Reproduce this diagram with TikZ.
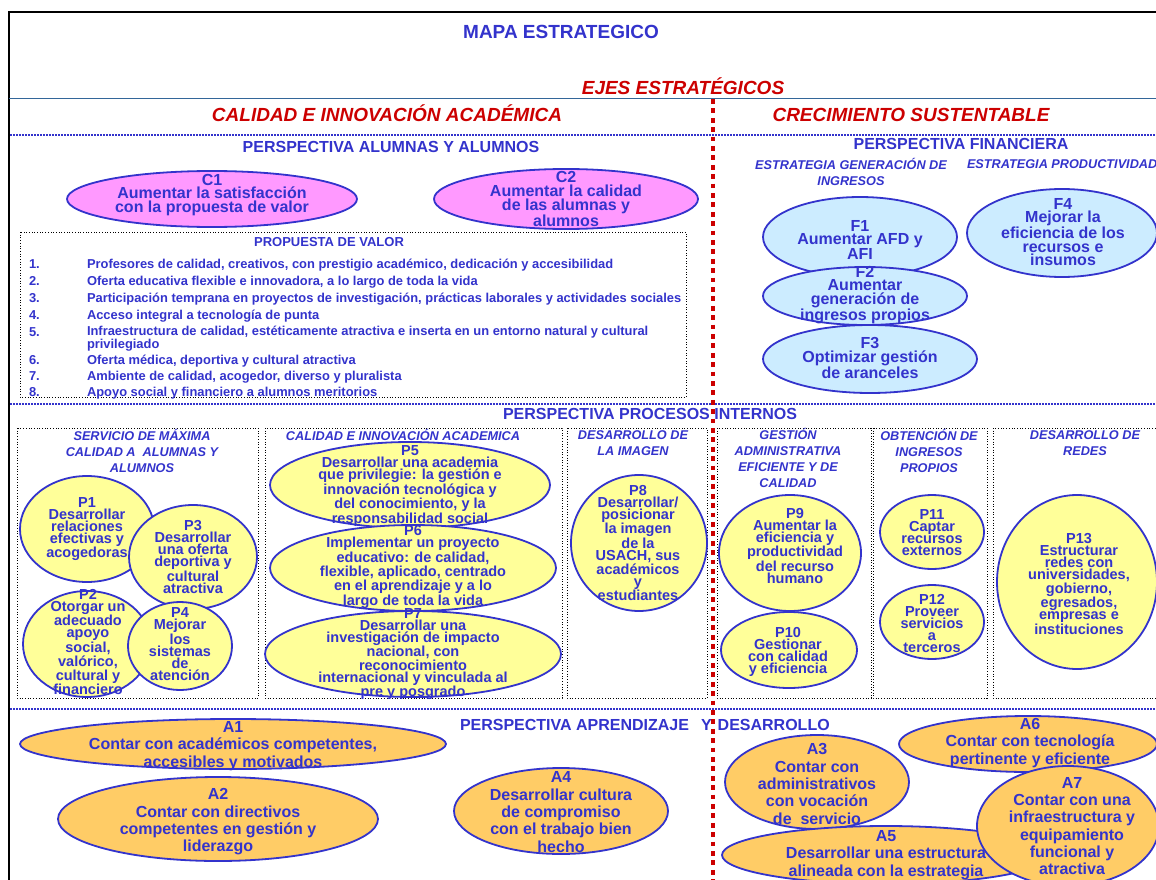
\documentclass[tikz,border=0pt]{standalone}
\usepackage{fontspec}
\setmainfont{Liberation Sans}
\usetikzlibrary{shapes.geometric}
\definecolor{bl}{HTML}{3333CC}
\definecolor{rd}{HTML}{CC0000}
\definecolor{steel}{HTML}{336699}
\definecolor{pinkf}{HTML}{FF99FF}
\definecolor{finf}{HTML}{CCECFF}
\definecolor{yelf}{HTML}{FFFF99}
\definecolor{orf}{HTML}{FFCC66}
\newcommand{\fsz}[2]{\fontsize{#1}{#2}\selectfont}
\tikzset{
  ttl/.style={font=\fsz{19}{22}\bfseries, text=bl, anchor=base},
  axisttl/.style={font=\fsz{19}{22}\bfseries\itshape, text=rd, anchor=base},
  persp/.style={font=\fsz{16}{18}\bfseries, text=bl, anchor=base},
  subh/.style={font=\fsz{12.7}{15.8}\bfseries\itshape, text=bl, align=center},
  itemtx/.style={font=\fsz{12.9}{10}\bfseries, text=bl, anchor=base west, align=left},
  oval/.style={ellipse, draw=bl, line width=1.8pt, inner sep=0pt, outer sep=0pt},
  custE/.style={oval, fill=pinkf},
  finE/.style={oval, fill=finf},
  procE/.style={oval, fill=yelf},
  aprE/.style={oval, fill=orf},
  ctx/.style={font=\fsz{16}{13.7}\bfseries, text=bl, align=center},
  ftx/.style={font=\fsz{16}{13.5}\bfseries, text=bl, align=center},
  ptx/.style={font=\fsz{14.5}{12}\bfseries, text=bl, align=center},
  atx/.style={font=\fsz{16}{17.3}\bfseries, text=bl, align=center},
  dotbox/.style={draw=black, line width=0.7pt, dotted},
  bluedots/.style={draw=bl, line width=2.4pt, dash pattern=on 1.6pt off 1.4pt},
  reddash/.style={draw=rd, line width=4.5pt, dash pattern=on 4.8pt off 4.6pt},
  every node/.append style={inner sep=0pt, outer sep=0pt}
}
\begin{document}
\begin{tikzpicture}[x=1pt,y=-1pt]
\useasboundingbox (0,0) rectangle (1156,880);
\clip (0,0) rectangle (1156,880);
\fill[white] (0,0) rectangle (1156,880);
% frame
\draw[black, line width=1.3pt] (9,882) -- (9,12) -- (1160,12);
\draw[steel, line width=1pt] (9,99) -- (1160,99);
\draw[bluedots] (10,135) -- (1160,135);
\draw[bluedots] (10,404) -- (1160,404);
\draw[bluedots] (10,709) -- (1160,709);
% titles
\node[ttl] (title) at (561,38.8) {MAPA ESTRATEGICO};
\node[axisttl] (ejes) at (683,94.8) {EJES ESTRATÉGICOS};
\node[axisttl] (ax1) at (387,121.8) {CALIDAD E INNOVACIÓN ACADÉMICA};
\node[axisttl] (ax2) at (911,121.8) {CRECIMIENTO SUSTENTABLE};
% perspectiva alumnos
\node[persp] (pal) at (391,152.7) {PERSPECTIVA ALUMNAS Y ALUMNOS};
\node[custE, minimum width=290pt, minimum height=56pt] (C1) at (212,199) {};
\node[ctx] (C1t) at (212,195) {C1\\Aumentar la satisfacción\\con la propuesta de valor};
\node[custE, minimum width=264pt, minimum height=60pt] (C2) at (566,199) {};
\node[ctx] (C2t) at (566,199) {C2\\Aumentar la calidad\\de las alumnas y\\alumnos};
% propuesta de valor
\draw[dotbox] (20,232) rectangle (686,397);
\node[font=\fsz{13}{15}\bfseries, text=bl, anchor=base] (pv) at (329,246.6) {PROPUESTA DE VALOR};
\node[itemtx] (n1) at (29,268.5) {1.};
\node[itemtx] (i1) at (87,268.5) {Profesores de calidad, creativos, con prestigio académico, dedicación y accesibilidad};
\node[itemtx] (n2) at (29,285.5) {2.};
\node[itemtx] (i2) at (87,285.5) {Oferta educativa flexible e innovadora, a lo largo de toda la vida};
\node[itemtx] (n3) at (29,302.5) {3.};
\node[itemtx] (i3) at (87,302.5) {Participación temprana en proyectos de investigación, prácticas laborales y actividades sociales};
\node[itemtx] (n4) at (29,319.5) {4.};
\node[itemtx] (i4) at (87,319.5) {Acceso integral a tecnología de punta};
\node[itemtx] (n5) at (29,336.5) {5.};
\node[itemtx, anchor=north west] (i5) at (87,326.5) {Infraestructura de calidad, estéticamente atractiva e inserta en un entorno natural y cultural\\privilegiado};
\node[itemtx] (n6) at (29,364.5) {6.};
\node[itemtx] (i6) at (87,364.5) {Oferta médica, deportiva y cultural atractiva};
\node[itemtx] (n7) at (29,380.5) {7.};
\node[itemtx] (i7) at (87,380.5) {Ambiente de calidad, acogedor, diverso y pluralista};
\node[itemtx] (n8) at (29,396.5) {8.};
\node[itemtx] (i8) at (87,396.5) {Apoyo social y financiero a alumnos meritorios};
% perspectiva financiera
\node[persp] (pfin) at (961,149.7) {PERSPECTIVA FINANCIERA};
\node[subh] (sfin1) at (851,172) {ESTRATEGIA GENERACIÓN DE\\INGRESOS};
\node[subh, anchor=base west] (sfin2) at (967,168.5) {ESTRATEGIA PRODUCTIVIDAD};
\node[finE, minimum width=194pt, minimum height=80pt] (F1) at (860,237) {};
\node[ftx] (F1t) at (860,240) {F1\\Aumentar AFD y\\AFI};
\node[finE, minimum width=204pt, minimum height=58pt] (F2) at (865,296) {};
\node[ftx] (F2t) at (865,295) {F2\\Aumentar\\generación de\\ingresos propios};
\node[finE, minimum width=214pt, minimum height=68pt] (F3) at (870,359) {};
\node[ftx] (F3t) at (870,358) {F3\\Optimizar gestión\\de aranceles};
\node[finE, minimum width=190pt, minimum height=88pt] (F4) at (1062,233) {};
\node[ftx] (F4t) at (1063,232) {F4\\Mejorar la\\eficiencia de los\\recursos e\\insumos};
% perspectiva procesos internos
\node[persp, anchor=base east] (ppi) at (797,419.7) {PERSPECTIVA PROCESOS INTERNOS};
\draw[dotbox] (17,428) rectangle (258,698);
\draw[dotbox] (265,428) rectangle (562,698);
\draw[dotbox] (567,428) rectangle (707,698);
\draw[dotbox] (717,428) rectangle (871,698);
\draw[dotbox] (873,428) rectangle (987,698);
\draw[dotbox] (993,428) rectangle (1170,698);
\node[subh] (s1) at (142,451) {SERVICIO DE MÁXIMA\\CALIDAD A~~ALUMNAS Y\\ALUMNOS};
\node[subh] (s2) at (403,435) {CALIDAD E INNOVACIÓN ACADEMICA};
\node[subh] (s3) at (633,443) {DESARROLLO DE\\LA IMAGEN};
\node[subh] (s4) at (788,458) {GESTIÓN\\ADMINISTRATIVA\\EFICIENTE Y DE\\CALIDAD};
\node[subh] (s5) at (929,451) {OBTENCIÓN DE\\INGRESOS\\PROPIOS};
\node[subh] (s6) at (1085,443) {DESARROLLO DE\\REDES};
\node[procE, minimum width=134pt, minimum height=106pt] (P1) at (87,529) {};
\node[ptx] (P1t) at (87,529) {P1\\Desarrollar\\relaciones\\efectivas y\\acogedoras};
\node[procE, minimum width=128pt, minimum height=104pt] (P3) at (193,557) {};
\node[ptx] (P3t) at (193,557) {P3\\Desarrollar\\una oferta\\deportiva y\\cultural\\atractiva};
\node[procE, minimum width=128pt, minimum height=106pt] (P2) at (87,644) {};
\node[ptx] (P2t) at (88,642) {P2\\Otorgar un\\adecuado\\apoyo\\social,\\valórico,\\cultural y\\financiero};
\node[procE, minimum width=104pt, minimum height=88pt] (P4) at (180,646) {};
\node[ptx] (P4t) at (180,644) {P4\\Mejorar\\los\\sistemas\\de\\atención};
\node[procE, minimum width=280pt, minimum height=86pt] (P5) at (410,485) {};
\node[ptx] (P5t) at (410,486) {P5\\Desarrollar una academia\\que privilegie: la gestión e\\innovación tecnológica y\\del conocimiento, y la\\responsabilidad social};
\node[procE, minimum width=286pt, minimum height=86pt] (P6) at (413,568) {};
\node[ptx] (P6t) at (413,567) {P6\\Implementar un proyecto\\educativo: de calidad,\\flexible, aplicado, centrado\\en el aprendizaje y a lo\\largo de toda la vida};
\node[procE, minimum width=296pt, minimum height=86pt] (P7) at (413,654) {};
\node[ptx] (P7t) at (413,654) {P7\\Desarrollar una\\investigación de impacto\\nacional, con\\reconocimiento\\internacional y vinculada al\\pre y posgrado};
\node[procE, minimum width=136pt, minimum height=136pt] (P8) at (639,543) {};
\node[ptx] (P8t) at (638,543) {P8\\Desarrollar/\\posicionar\\la imagen\\de la\\USACH, sus\\académicos\\y\\estudiantes};
\node[procE, minimum width=142pt, minimum height=116pt] (P9) at (790,553) {};
\node[ptx] (P9t) at (795,546) {P9\\Aumentar la\\eficiencia y\\productividad\\del recurso\\humano};
\node[procE, minimum width=136pt, minimum height=76pt] (P10) at (789,650) {};
\node[ptx] (P10t) at (788,652) {P10\\Gestionar\\con calidad\\y eficiencia};
\node[procE, minimum width=104pt, minimum height=74pt] (P11) at (932,532) {};
\node[ptx] (P11t) at (932,533) {P11\\Captar\\recursos\\externos};
\node[procE, minimum width=104pt, minimum height=74pt] (P12) at (932,622) {};
\node[ptx] (P12t) at (932,624) {P12\\Proveer\\servicios\\a\\terceros};
\node[procE, minimum width=160pt, minimum height=174pt] (P13) at (1077,582) {};
\node[ptx] (P13t) at (1079,584) {P13\\Estructurar\\redes con\\universidades,\\gobierno,\\egresados,\\empresas e\\instituciones};
% perspectiva aprendizaje y desarrollo
\node[persp, anchor=base west] (pad) at (460,730.7) {PERSPECTIVA APRENDIZAJE\hspace{12pt}Y\hspace{6pt}DESARROLLO};
\node[aprE, minimum width=426pt, minimum height=50pt] (A1) at (233,744) {};
\node[atx] (A1t) at (233,746) {A1\\Contar con académicos competentes,\\accesibles y motivados};
\node[aprE, minimum width=320pt, minimum height=84pt] (A2) at (218,819) {};
\node[atx] (A2t) at (218,822) {A2\\Contar con directivos\\competentes en gestión y\\liderazgo};
\node[aprE, minimum width=214pt, minimum height=86pt] (A4) at (561,811) {};
\node[atx] (A4t) at (561,812) {A4\\Desarrollar cultura\\de compromiso\\con el trabajo bien\\hecho};
\node[aprE, minimum width=258pt, minimum height=56pt] (A6) at (1028,744) {};
\node[atx] (A6t) at (1030,743) {A6\\Contar con tecnología\\pertinente y eficiente};
\node[aprE, minimum width=184pt, minimum height=94pt] (A3) at (817,782) {};
\node[atx] (A3t) at (817,784) {A3\\Contar con\\administrativos\\con vocación\\de~~servicio};
\node[aprE, minimum width=328pt, minimum height=58pt] (A5) at (886,855) {};
\node[atx] (A5t) at (886,855) {A5\\Desarrollar una estructura\\alineada con la estrategia};
\node[aprE, minimum width=182pt, minimum height=120pt] (A7) at (1068,826) {};
\node[atx] (A7t) at (1072,826) {A7\\Contar con una\\infraestructura y\\equipamiento\\funcional y\\atractiva};
% red axis divider
\draw[reddash] (713,99) -- (713,882);
\end{tikzpicture}
\end{document}
